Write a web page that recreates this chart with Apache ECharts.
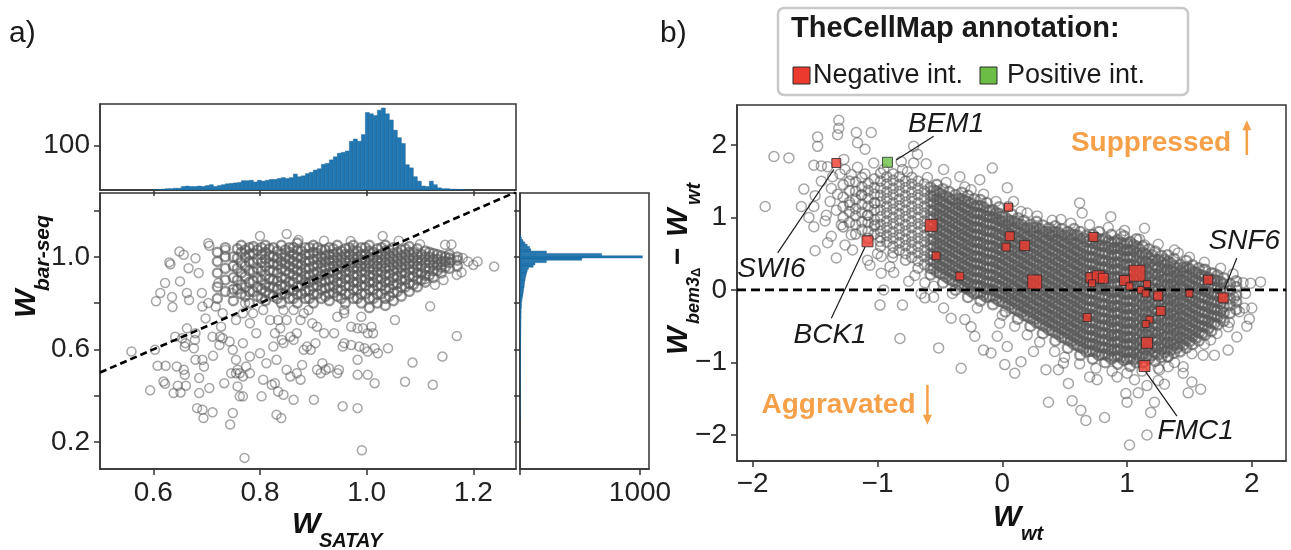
<!DOCTYPE html>
<html>
<head>
<meta charset="utf-8">
<script src="https://cdn.jsdelivr.net/npm/echarts@6/dist/echarts.min.js"></script>
<style>
  html, body { margin: 0; background: #fff; }
  #chart { width: 1291px; height: 550px; }
</style>
</head>
<body>
<div id="chart"></div>
<script>
const FONT = '"Liberation Sans", Arial, sans-serif'
const BLUE = '#1f77b4'
const ORANGE = '#f6a049'

// ---- panel a: axis extents / ticks ----
const A_X = [0.5, 1.28]
const A_Y = [0.083, 1.276]
const A_XTICKS = [0.6, 0.8, 1.0, 1.2]
const A_YTICKS = [0.2, 0.4, 0.6, 0.8, 1.0, 1.2]
const A_YLABELS = [0.2, 0.6, 1.0]

// top histogram of W_SATAY (bins start 0.6, width 0.0075)
const TOP_BIN0 = 0.6
const TOP_BINW = 0.0075
const topHist = [
  1, 1, 2, 3, 3, 4, 4, 8, 9, 8,
  8, 9, 8, 10, 12, 8, 10, 12, 14, 15,
  16, 17, 21, 21, 22, 18, 22, 20, 22, 24,
  24, 26, 28, 26, 28, 36, 30, 32, 37, 40,
  45, 48, 58, 60, 68, 75, 83, 85, 88, 110,
  115, 110, 125, 175, 172, 168, 180, 185, 172, 158,
  135, 118, 105, 57, 50, 30, 20, 9, 8, 20,
  12, 5, 3, 3, 2, 2, 1, 1, 0, 0
]

// right histogram of W_bar-seq (bins start 0.295, width 0.01)
const RIGHT_BIN0 = 0.295
const RIGHT_BINW = 0.01
const rightHist = [
  1, 0, 1, 2, 1, 1, 2, 1, 2, 2,
  2, 1, 2, 3, 2, 2, 3, 2, 3, 3,
  3, 3, 4, 3, 4, 4, 3, 4, 5, 4,
  5, 4, 5, 5, 6, 5, 6, 6, 7, 6,
  7, 8, 7, 8, 9, 8, 10, 9, 11, 12,
  12, 15, 18, 22, 25, 28, 30, 34, 36, 38,
  42, 45, 50, 55, 60, 70, 110, 125, 220, 515,
  1020, 680, 220, 90, 80, 60, 40, 25, 12, 5
]

// scatter a: sparse points [W_SATAY, W_bar-seq]
const sparseA = [
  [0.559,0.591],[0.603,0.598],[0.594,0.423],[0.608,0.529],[0.623,0.529],[0.619,0.461],[0.622,0.451],[0.638,0.411],
  [0.651,0.414],[0.644,0.526],[0.657,0.512],[0.659,0.490],[0.646,0.443],[0.661,0.443],[0.654,0.648],[0.660,0.627],
  [0.659,0.612],[0.663,0.691],[0.641,0.655],[0.679,0.555],[0.676,0.605],[0.678,0.641],[0.686,0.476],[0.686,0.411],
  [0.682,0.346],[0.692,0.339],[0.694,0.303],[0.711,0.328],[0.705,0.433],[0.692,0.555],[0.695,0.526],[0.712,0.572],
  [0.724,0.619],[0.725,0.655],[0.730,0.648],[0.727,0.698],[0.743,0.634],[0.749,0.598],[0.755,0.555],[0.758,0.512],
  [0.755,0.497],[0.762,0.497],[0.758,0.440],[0.762,0.397],[0.749,0.325],[0.744,0.275],[0.733,0.454],[0.746,0.497],
  [0.768,0.483],[0.768,0.397],[0.774,0.526],[0.781,0.569],[0.781,0.497],[0.771,0.131],[0.768,0.627],[0.781,0.713],
  [0.793,0.670],[0.800,0.583],[0.812,0.540],[0.806,0.469],[0.803,0.397],[0.822,0.447],[0.825,0.612],[0.831,0.555],
  [0.828,0.670],[0.834,0.727],[0.838,0.691],[0.841,0.641],[0.844,0.627],[0.828,0.454],[0.834,0.418],[0.831,0.318],
  [0.840,0.303],[0.844,0.404],[0.850,0.512],[0.857,0.483],[0.863,0.382],[0.869,0.497],[0.876,0.469],[0.879,0.533],
  [0.882,0.598],[0.888,0.612],[0.895,0.598],[0.898,0.713],[0.904,0.627],[0.917,0.540],[0.923,0.512],[0.907,0.512],
  [0.901,0.382],[0.914,0.497],[0.929,0.519],[0.945,0.497],[0.948,0.512],[0.955,0.612],[0.958,0.627],[0.971,0.619],
  [0.983,0.555],[0.986,0.612],[0.983,0.691],[0.993,0.691],[0.990,0.741],[1.002,0.670],[1.009,0.698],[1.012,0.670],
  [0.996,0.605],[1.002,0.591],[1.015,0.605],[1.021,0.583],[1.040,0.605],[1.002,0.490],[1.015,0.454],[0.983,0.490],
  [0.955,0.354],[0.983,0.346],[0.991,0.164],[1.053,0.727],[1.072,0.460],[1.086,0.543],[1.119,0.786],[1.124,0.447],
  [1.142,0.569],[1.169,0.658],[0.945,0.741],[0.958,0.770],[0.882,0.756],[0.891,0.770],[0.869,0.670],[0.863,0.641],
  [0.857,0.655],[0.920,0.670],[0.939,0.670],[0.958,0.756],[0.971,0.698],[0.907,0.698],[0.679,0.670],[0.711,0.655],
  [0.698,0.734],[0.730,0.756],[0.755,0.727],[0.768,0.756],[0.787,0.756],[0.806,0.770],[0.819,0.727],[0.844,0.770],
  [0.850,0.727],[0.863,0.770],[0.876,0.727],[0.692,0.785],[0.717,0.785],[0.667,0.813],
  [0.605,0.808],[0.622,0.887],[0.613,0.844],[0.635,0.826],[0.636,0.783],[0.650,0.894],[0.666,0.951],[0.663,0.844],
  [0.679,0.994],[0.685,0.930],[0.691,0.844],[0.703,0.800],[0.722,0.887],[0.735,1.030],[0.747,0.844],[0.772,0.800],
  [0.649,1.023],[0.657,1.009],[0.630,0.976],[0.632,0.968],[0.703,1.059],[0.705,1.048],[0.800,1.090],[0.850,1.099],
  [0.872,1.073],[1.030,1.090],[0.920,1.070],[0.970,1.068],[1.060,1.070],[1.100,1.055],
  [1.239,0.958],[1.208,0.980],[1.190,0.980],[1.178,0.933],[1.169,0.922],[1.159,0.987],[1.147,1.052],[1.159,1.053],
  [1.144,0.900],[1.128,0.879],[1.110,0.904],[1.200,0.965],[1.180,0.995]
]

// scatter a: dense band, columns [x, [y...]]
const coreA = [
  [0.720, [0.82, 0.87, 0.93, 0.98, 1.02]],
  [0.735, [0.85, 0.90, 0.95, 1.00, 1.04]],
  [0.750, [0.81, 0.86, 0.91, 0.96, 1.00]],
  [0.765, [0.84, 0.88, 0.93, 0.975, 1.02, 1.05]],
  [0.780, [0.80, 0.85, 0.89, 0.94, 0.98, 1.01, 1.04]],
  [0.795, [0.83, 0.87, 0.91, 0.95, 0.99, 1.03]],
  [0.810, [0.81, 0.85, 0.88, 0.92, 0.96, 0.99, 1.02, 1.05]],
  [0.825, [0.83, 0.87, 0.90, 0.94, 0.97, 1.00, 1.04]],
  [0.840, [0.80, 0.84, 0.88, 0.91, 0.95, 0.98, 1.01, 1.05]],
  [0.855, [0.82, 0.86, 0.89, 0.93, 0.96, 0.99, 1.02, 1.04]],
  [0.870, [0.80, 0.84, 0.87, 0.91, 0.94, 0.97, 1.00, 1.03, 1.06]],
  [0.885, [0.82, 0.85, 0.89, 0.92, 0.95, 0.98, 1.01, 1.04]],
  [0.900, [0.80, 0.84, 0.87, 0.90, 0.93, 0.96, 0.99, 1.02, 1.05]],
  [0.915, [0.82, 0.86, 0.89, 0.92, 0.95, 0.975, 1.00, 1.03]],
  [0.930, [0.81, 0.84, 0.87, 0.90, 0.93, 0.96, 0.985, 1.01, 1.04]],
  [0.945, [0.83, 0.86, 0.89, 0.92, 0.945, 0.97, 0.995, 1.02, 1.05]],
  [0.960, [0.80, 0.84, 0.875, 0.905, 0.935, 0.96, 0.985, 1.01, 1.035]],
  [0.975, [0.82, 0.86, 0.89, 0.92, 0.95, 0.975, 1.00, 1.025, 1.05]],
  [0.990, [0.80, 0.84, 0.875, 0.905, 0.935, 0.96, 0.985, 1.01, 1.04]],
  [1.005, [0.78, 0.82, 0.86, 0.89, 0.92, 0.95, 0.975, 1.00, 1.025, 1.05]],
  [1.020, [0.80, 0.84, 0.875, 0.905, 0.935, 0.96, 0.985, 1.01, 1.035]],
  [1.035, [0.79, 0.82, 0.86, 0.89, 0.92, 0.95, 0.975, 1.00, 1.025, 1.05]],
  [1.050, [0.81, 0.845, 0.88, 0.91, 0.94, 0.965, 0.99, 1.015, 1.04]],
  [1.065, [0.83, 0.87, 0.90, 0.93, 0.955, 0.98, 1.005, 1.03]],
  [1.080, [0.85, 0.885, 0.915, 0.945, 0.97, 0.995, 1.02, 1.045]],
  [1.095, [0.87, 0.90, 0.93, 0.96, 0.985, 1.01, 1.035]],
  [1.110, [0.89, 0.92, 0.95, 0.975, 1.00, 1.025]],
  [1.125, [0.91, 0.94, 0.965, 0.99, 1.015]],
  [1.140, [0.93, 0.955, 0.98, 1.005]],
  [1.155, [0.95, 0.975, 0.995, 1.01]],
  [1.170, [0.96, 0.985, 1.00]]
]

// scatter a: densest part of the band (between the columns above)
const coreA2 = [
  [0.7575, [0.86, 0.90, 0.95, 0.995, 1.035]],
  [0.7725, [0.83, 0.87, 0.915, 0.96, 1.00, 1.03]],
  [0.7875, [0.85, 0.895, 0.935, 0.975, 1.015, 1.045]],
  [0.8025, [0.82, 0.86, 0.90, 0.94, 0.975, 1.01, 1.04]],
  [0.8175, [0.84, 0.87, 0.905, 0.94, 0.975, 1.005, 1.035]],
  [0.8325, [0.82, 0.86, 0.895, 0.93, 0.965, 0.995, 1.025]],
  [0.8475, [0.84, 0.875, 0.905, 0.94, 0.97, 1.00, 1.03]],
  [0.8625, [0.82, 0.855, 0.89, 0.92, 0.95, 0.98, 1.01, 1.04]],
  [0.8775, [0.84, 0.875, 0.905, 0.935, 0.965, 0.995, 1.025]],
  [0.8925, [0.82, 0.855, 0.89, 0.92, 0.95, 0.98, 1.01, 1.04]],
  [0.9075, [0.84, 0.875, 0.905, 0.935, 0.965, 0.99, 1.015, 1.04]],
  [0.9225, [0.83, 0.865, 0.895, 0.925, 0.955, 0.98, 1.005, 1.03]],
  [0.9375, [0.845, 0.875, 0.905, 0.935, 0.96, 0.985, 1.01, 1.035]],
  [0.9525, [0.82, 0.855, 0.89, 0.92, 0.95, 0.975, 1.00, 1.025]],
  [0.9675, [0.84, 0.875, 0.905, 0.935, 0.96, 0.985, 1.01, 1.04]],
  [0.9825, [0.82, 0.86, 0.89, 0.92, 0.95, 0.975, 1.00, 1.025]],
  [0.9975, [0.84, 0.875, 0.905, 0.935, 0.96, 0.985, 1.01, 1.04]],
  [1.0125, [0.82, 0.86, 0.89, 0.92, 0.945, 0.97, 0.995, 1.02]],
  [1.0275, [0.84, 0.875, 0.905, 0.935, 0.96, 0.985, 1.01, 1.04]],
  [1.0425, [0.83, 0.865, 0.895, 0.925, 0.955, 0.98, 1.005, 1.03]],
  [1.0575, [0.85, 0.885, 0.915, 0.945, 0.97, 0.995, 1.02]],
  [1.0725, [0.87, 0.90, 0.93, 0.96, 0.985, 1.01, 1.035]],
  [1.0875, [0.88, 0.915, 0.945, 0.97, 0.995, 1.02]],
  [1.1025, [0.90, 0.93, 0.96, 0.985, 1.01]],
  [1.1175, [0.92, 0.95, 0.975, 1.00, 1.02]],
  [1.1325, [0.94, 0.965, 0.99, 1.01]],
  [1.1475, [0.955, 0.98, 1.00]]
]

// ---- panel b: axis extents / ticks ----
const B_X = [-2.126, 2.274]
const B_Y = [-2.36, 2.55]
const B_TICKS = [-2, -1, 0, 1, 2]

// scatter b: sparse points [W_wt, W_bem3Δ - W_wt]
const sparseB = [
  [-1.31,2.34],[-1.31,2.23],[-1.32,2.14],[-1.48,2.11],[-1.48,1.98],[-1.17,2.17],[-1.16,2.03],[-1.05,2.17],
  [-1.10,1.94],[-1.83,1.84],[-1.71,1.82],[-1.51,1.72],[-1.27,1.80],[-1.16,1.69],[-1.03,1.75],[-1.45,1.71],
  [-1.40,1.70],[-1.26,1.66],[-1.21,1.59],[-1.36,1.56],[-1.37,1.40],[-1.59,1.39],[-1.90,1.15],[-1.61,1.15],
  [-1.51,1.15],[-1.41,1.03],[-1.51,0.87],[-1.29,0.90],[-1.37,0.74],[-1.50,0.54],[-1.33,0.44],[-1.26,0.62],
  [-1.21,0.76],[-1.22,1.17],[-1.13,1.31],[-1.02,1.20],[-1.08,1.03],[-1.02,0.90],[-0.98,0.67],[-0.97,0.46],
  [-1.08,0.41],[-1.06,0.34],[-0.97,0.23],[-0.87,0.24],[-0.98,-0.21],[-0.80,-0.21],[-0.82,-0.67],[-0.51,-0.80],
  [-0.33,-1.08],[-0.71,1.98],[-0.68,1.87],[-0.81,1.77],[-0.71,1.75],[-0.61,1.74],[-0.76,1.63],[-0.47,1.66],
  [-0.34,1.56],[-0.08,1.68],[0.04,1.41],[0.09,1.22],[-0.18,1.52],[-0.25,1.38],[0.20,1.06],[0.47,0.97],
  [0.62,1.20],[0.64,1.06],[0.87,1.01],[0.95,0.77],[1.14,0.85],[1.14,0.62],[1.41,0.51],[1.61,0.28],
  [1.70,0.23],[2.07,0.11],[1.99,0.09],[1.86,-0.11],[1.94,-0.25],[1.96,-0.50],[1.81,-0.51],[1.81,-0.83],
  [1.67,-0.69],[1.61,-0.90],[1.59,-1.37],[1.49,-1.42],[1.52,-1.27],[1.45,-1.06],[1.33,-0.92],[1.33,-1.06],
  [1.26,-1.10],[1.30,-1.30],[1.22,-1.55],[1.19,-1.69],[1.16,-2.00],[1.02,-2.14],[1.16,-1.32],[1.09,-1.42],
  [0.99,-1.43],[1.00,-1.55],[0.82,-1.76],[0.67,-1.80],[0.63,-1.66],[0.56,-1.53],[0.53,-1.29],[0.37,-1.55],
  [0.76,-1.24],[0.35,-1.10],[0.49,-1.01],[0.92,-1.20],[1.06,-1.24],[0.10,-1.15],[0.15,-0.99],[0.02,-1.03],
  [0.04,-0.78],[-0.09,-0.87],[-0.15,-0.83],[-0.22,-0.64],[-0.25,-0.51],[-0.30,-0.41],[-0.41,-0.39],[-0.47,-0.25],
  [-0.62,-0.11],[-0.04,-0.64],[-0.02,-0.46],
  [-1.45,1.50],[-1.38,1.22],[-1.32,1.32],[-1.42,0.95],[-1.33,1.10],[-0.62,0.10],[-0.70,0.20],[-1.00,0.50],
  [-0.90,0.32],[-0.75,0.12],[-0.88,0.45],[-0.55,0.05],[-0.40,-0.05],[-0.20,-0.25],[0.00,-0.35],[0.10,-0.50],
  [0.20,-0.62],[0.30,-0.72],[0.42,-0.85],[0.50,-0.93],[0.62,-1.02],[0.75,-1.08],[0.88,-1.12],[1.00,-1.15],
  [1.12,-1.12],[1.25,-1.08],[1.38,-1.00],[1.52,-0.88],[1.62,-0.75],[1.72,-0.60],[1.82,-0.45],[1.90,-0.30],
  [1.95,-0.05],[1.93,0.10],[1.85,0.22],[1.75,0.30],[1.62,0.38],[1.50,0.45],[1.38,0.55],[1.25,0.63],
  [1.10,0.70],[0.98,0.82],[0.85,0.86],[0.70,0.90],[0.55,0.92],[0.40,0.96],[0.28,1.02],[0.15,1.08],
  [0.05,1.15],[-0.05,1.22],[-0.15,1.32],[-0.30,1.42],[-0.45,1.48],[-0.60,1.55],[-0.80,1.66],[-0.95,1.66],
  [-1.10,1.60],[-1.30,1.60],[-1.50,1.30],[-1.55,1.00],[-1.40,0.65],[-1.20,0.55],[-0.95,0.00],[-0.65,-0.05],
  [-0.55,-0.10],[0.25,-0.85],[0.45,-1.10],[0.70,-1.20],[1.25,-1.25],[1.45,-1.15],[1.70,-0.90],[1.88,-0.65],
  [2.00,-0.25],[1.98,-0.40]
]

// scatter b: upper-left lobe of the band, columns [x, [y...]]
const lobeB = [
  [-1.275, [0.87, 1.00, 1.15, 1.28, 1.45]],
  [-1.225, [0.93, 1.08, 1.21, 1.37, 1.50]],
  [-1.175, [0.77, 0.90, 1.02, 1.12, 1.25, 1.36, 1.49]],
  [-1.125, [0.83, 0.94, 1.07, 1.18, 1.31, 1.42, 1.55]],
  [-1.075, [0.71, 0.81, 0.93, 1.03, 1.15, 1.26, 1.37, 1.47]],
  [-1.025, [0.77, 0.88, 0.97, 1.10, 1.20, 1.32, 1.41, 1.53]],
  [-0.975, [0.60, 0.72, 0.81, 0.90, 1.01, 1.10, 1.21, 1.30, 1.40, 1.50, 1.61]],
  [-0.925, [0.66, 0.75, 0.86, 0.95, 1.06, 1.15, 1.26, 1.35, 1.46, 1.56]],
  [-0.875, [0.51, 0.60, 0.71, 0.80, 0.91, 1.00, 1.11, 1.20, 1.31, 1.40, 1.51, 1.60]],
  [-0.825, [0.55, 0.65, 0.76, 0.85, 0.96, 1.05, 1.16, 1.25, 1.36, 1.45, 1.56]],
  [-0.775, [0.41, 0.50, 0.61, 0.70, 0.81, 0.90, 1.01, 1.10, 1.21, 1.30, 1.41, 1.50]],
  [-0.725, [0.45, 0.56, 0.66, 0.75, 0.86, 0.95, 1.06, 1.15, 1.26, 1.35, 1.46, 1.55]],
  [-0.675, [0.30, 0.40, 0.51, 0.60, 0.71, 0.80, 0.91, 1.00, 1.11, 1.20, 1.31, 1.40, 1.50]],
  [-0.625, [0.35, 0.46, 0.55, 0.66, 0.75, 0.86, 0.95, 1.06, 1.15, 1.26, 1.36, 1.46]]
]

// scatter b: dense diagonal band, columns [x, [y...]]
const coreB = [
  [-0.575, [0.21, 0.30, 0.41, 0.50, 0.61, 0.70, 0.81, 0.90, 1.01, 1.10, 1.21, 1.30, 1.41]],
  [-0.525, [0.25, 0.36, 0.45, 0.56, 0.65, 0.76, 0.85, 0.96, 1.05, 1.16, 1.25, 1.36, 1.45]],
  [-0.475, [0.10, 0.21, 0.30, 0.41, 0.50, 0.61, 0.70, 0.81, 0.90, 1.01, 1.10, 1.21, 1.30, 1.39]],
  [-0.425, [0.15, 0.26, 0.35, 0.46, 0.55, 0.66, 0.75, 0.86, 0.95, 1.06, 1.15, 1.26, 1.35]],
  [-0.375, [0.00, 0.11, 0.20, 0.31, 0.40, 0.51, 0.60, 0.71, 0.80, 0.91, 1.00, 1.11, 1.20, 1.31]],
  [-0.325, [0.05, 0.16, 0.25, 0.36, 0.45, 0.56, 0.65, 0.76, 0.85, 0.96, 1.05, 1.16, 1.25, 1.34]],
  [-0.275, [-0.10, 0.01, 0.10, 0.21, 0.30, 0.41, 0.50, 0.61, 0.70, 0.81, 0.90, 1.01, 1.10, 1.21, 1.30]],
  [-0.225, [-0.05, 0.06, 0.15, 0.26, 0.35, 0.46, 0.55, 0.66, 0.75, 0.86, 0.95, 1.06, 1.15, 1.25]],
  [-0.175, [-0.15, -0.04, 0.05, 0.16, 0.25, 0.36, 0.45, 0.56, 0.65, 0.76, 0.85, 0.96, 1.05, 1.16, 1.24]],
  [-0.125, [-0.10, 0.01, 0.10, 0.21, 0.30, 0.41, 0.50, 0.61, 0.70, 0.81, 0.90, 1.01, 1.10, 1.20]],
  [-0.075, [-0.20, -0.09, 0.00, 0.11, 0.20, 0.31, 0.40, 0.51, 0.60, 0.71, 0.80, 0.91, 1.00, 1.10]],
  [-0.025, [-0.15, -0.04, 0.05, 0.16, 0.25, 0.36, 0.45, 0.56, 0.65, 0.76, 0.85, 0.96, 1.05, 1.14]],
  [0.025, [-0.30, -0.19, -0.10, 0.01, 0.10, 0.21, 0.30, 0.41, 0.50, 0.61, 0.70, 0.81, 0.90, 1.00]],
  [0.075, [-0.25, -0.14, -0.05, 0.06, 0.15, 0.26, 0.35, 0.46, 0.55, 0.66, 0.75, 0.86, 0.95, 1.04]],
  [0.125, [-0.40, -0.29, -0.20, -0.09, 0.00, 0.11, 0.20, 0.31, 0.40, 0.51, 0.60, 0.71, 0.80, 0.91, 0.99]],
  [0.175, [-0.35, -0.24, -0.15, -0.04, 0.05, 0.16, 0.25, 0.36, 0.45, 0.56, 0.65, 0.76, 0.85, 0.95]],
  [0.225, [-0.50, -0.39, -0.30, -0.19, -0.10, 0.01, 0.10, 0.21, 0.30, 0.41, 0.50, 0.61, 0.70, 0.81, 0.90]],
  [0.275, [-0.45, -0.34, -0.25, -0.14, -0.05, 0.06, 0.15, 0.26, 0.35, 0.46, 0.55, 0.66, 0.75, 0.86, 0.94]],
  [0.325, [-0.60, -0.49, -0.40, -0.29, -0.20, -0.09, 0.00, 0.11, 0.20, 0.31, 0.40, 0.51, 0.60, 0.71, 0.80, 0.89]],
  [0.375, [-0.55, -0.44, -0.35, -0.24, -0.15, -0.04, 0.05, 0.16, 0.25, 0.36, 0.45, 0.56, 0.65, 0.76, 0.85]],
  [0.425, [-0.70, -0.59, -0.50, -0.39, -0.30, -0.19, -0.10, 0.01, 0.10, 0.21, 0.30, 0.41, 0.50, 0.61, 0.70, 0.80, 0.88]],
  [0.475, [-0.65, -0.54, -0.45, -0.34, -0.25, -0.14, -0.05, 0.06, 0.15, 0.26, 0.35, 0.46, 0.55, 0.66, 0.75, 0.84]],
  [0.525, [-0.80, -0.69, -0.60, -0.49, -0.40, -0.29, -0.20, -0.09, 0.00, 0.11, 0.20, 0.31, 0.40, 0.51, 0.60, 0.71, 0.80]],
  [0.575, [-0.75, -0.64, -0.55, -0.44, -0.35, -0.24, -0.15, -0.04, 0.05, 0.16, 0.25, 0.36, 0.45, 0.56, 0.65, 0.76, 0.84]],
  [0.625, [-0.90, -0.79, -0.70, -0.59, -0.50, -0.39, -0.30, -0.19, -0.10, 0.01, 0.10, 0.21, 0.30, 0.41, 0.50, 0.61, 0.70, 0.80]],
  [0.675, [-0.85, -0.74, -0.65, -0.54, -0.45, -0.34, -0.25, -0.14, -0.05, 0.06, 0.15, 0.26, 0.35, 0.46, 0.55, 0.66, 0.75]],
  [0.725, [-0.95, -0.84, -0.75, -0.64, -0.55, -0.44, -0.35, -0.24, -0.15, -0.04, 0.05, 0.16, 0.25, 0.36, 0.45, 0.56, 0.65, 0.76]],
  [0.775, [-0.90, -0.79, -0.70, -0.59, -0.50, -0.39, -0.30, -0.19, -0.10, 0.01, 0.10, 0.21, 0.30, 0.41, 0.50, 0.61, 0.70, 0.80]],
  [0.825, [-1.00, -0.89, -0.80, -0.69, -0.60, -0.49, -0.40, -0.29, -0.20, -0.09, 0.00, 0.11, 0.20, 0.31, 0.40, 0.51, 0.60, 0.71]],
  [0.875, [-0.95, -0.84, -0.75, -0.64, -0.55, -0.44, -0.35, -0.24, -0.15, -0.04, 0.05, 0.16, 0.25, 0.36, 0.45, 0.56, 0.65, 0.76]],
  [0.925, [-1.02, -0.91, -0.82, -0.71, -0.62, -0.51, -0.42, -0.31, -0.22, -0.11, -0.02, 0.09, 0.18, 0.29, 0.38, 0.49, 0.58, 0.69]],
  [0.975, [-0.97, -0.86, -0.77, -0.66, -0.57, -0.46, -0.37, -0.26, -0.17, -0.06, 0.03, 0.14, 0.23, 0.34, 0.43, 0.54, 0.63, 0.74]],
  [1.025, [-1.05, -0.94, -0.85, -0.74, -0.65, -0.54, -0.45, -0.34, -0.25, -0.14, -0.05, 0.06, 0.15, 0.26, 0.35, 0.46, 0.55, 0.66]],
  [1.075, [-1.00, -0.89, -0.80, -0.69, -0.60, -0.49, -0.40, -0.29, -0.20, -0.09, 0.00, 0.11, 0.20, 0.31, 0.40, 0.51, 0.60, 0.70]],
  [1.125, [-1.00, -0.89, -0.80, -0.69, -0.60, -0.49, -0.40, -0.29, -0.20, -0.09, 0.00, 0.11, 0.20, 0.31, 0.40, 0.51, 0.60]],
  [1.175, [-0.95, -0.84, -0.75, -0.64, -0.55, -0.44, -0.35, -0.24, -0.15, -0.04, 0.05, 0.16, 0.25, 0.36, 0.45, 0.56]],
  [1.225, [-0.98, -0.87, -0.78, -0.67, -0.58, -0.47, -0.38, -0.27, -0.18, -0.07, 0.02, 0.13, 0.22, 0.33, 0.42, 0.53]],
  [1.275, [-0.93, -0.82, -0.73, -0.62, -0.53, -0.42, -0.33, -0.22, -0.13, -0.02, 0.07, 0.18, 0.27, 0.38, 0.47]],
  [1.325, [-0.92, -0.81, -0.72, -0.61, -0.52, -0.41, -0.32, -0.21, -0.12, -0.01, 0.08, 0.19, 0.28, 0.39, 0.48]],
  [1.375, [-0.87, -0.76, -0.67, -0.56, -0.47, -0.36, -0.27, -0.16, -0.07, 0.04, 0.13, 0.24, 0.33, 0.43]],
  [1.425, [-0.85, -0.74, -0.65, -0.54, -0.45, -0.34, -0.25, -0.14, -0.05, 0.06, 0.15, 0.26, 0.35]],
  [1.475, [-0.80, -0.69, -0.60, -0.49, -0.40, -0.29, -0.20, -0.09, 0.00, 0.11, 0.20, 0.31, 0.40]],
  [1.525, [-0.75, -0.64, -0.55, -0.44, -0.35, -0.24, -0.15, -0.04, 0.05, 0.16, 0.25, 0.34]],
  [1.575, [-0.70, -0.59, -0.50, -0.39, -0.30, -0.19, -0.10, 0.01, 0.10, 0.21, 0.30]],
  [1.625, [-0.62, -0.51, -0.42, -0.31, -0.22, -0.11, -0.02, 0.09, 0.18, 0.28]],
  [1.675, [-0.57, -0.46, -0.37, -0.26, -0.17, -0.06, 0.03, 0.14, 0.23]],
  [1.725, [-0.48, -0.37, -0.28, -0.17, -0.08, 0.03, 0.12, 0.20]],
  [1.775, [-0.43, -0.32, -0.23, -0.12, -0.03, 0.08, 0.16]],
  [1.825, [-0.32, -0.21, -0.12, -0.01, 0.08]],
  [1.875, [-0.27, -0.16, -0.07, 0.04, 0.12]]
]

// scatter b: densest interior of the band (between the columns above)
const coreB2 = [
  [-0.55, [0.29, 0.39, 0.49, 0.59, 0.69, 0.79, 0.89, 0.99, 1.09, 1.19, 1.29, 1.37]],
  [-0.50, [0.23, 0.33, 0.43, 0.53, 0.63, 0.73, 0.83, 0.93, 1.03, 1.13, 1.23, 1.33]],
  [-0.45, [0.18, 0.28, 0.38, 0.48, 0.58, 0.68, 0.78, 0.88, 0.98, 1.08, 1.18, 1.29]],
  [-0.40, [0.13, 0.23, 0.33, 0.43, 0.53, 0.63, 0.73, 0.83, 0.93, 1.03, 1.13, 1.24]],
  [-0.35, [0.08, 0.18, 0.28, 0.38, 0.48, 0.58, 0.68, 0.78, 0.88, 0.98, 1.08, 1.18, 1.26]],
  [-0.30, [0.03, 0.13, 0.23, 0.33, 0.43, 0.53, 0.63, 0.73, 0.83, 0.93, 1.03, 1.13, 1.23]],
  [-0.25, [-0.02, 0.08, 0.18, 0.28, 0.38, 0.48, 0.58, 0.68, 0.78, 0.88, 0.98, 1.08, 1.19]],
  [-0.20, [-0.04, 0.06, 0.16, 0.26, 0.36, 0.46, 0.56, 0.66, 0.76, 0.86, 0.96, 1.06, 1.16]],
  [-0.15, [-0.07, 0.03, 0.13, 0.23, 0.33, 0.43, 0.53, 0.63, 0.73, 0.83, 0.93, 1.03, 1.14]],
  [-0.10, [-0.09, 0.01, 0.11, 0.21, 0.31, 0.41, 0.51, 0.61, 0.71, 0.81, 0.91, 1.01, 1.09]],
  [-0.05, [-0.12, -0.02, 0.08, 0.18, 0.28, 0.38, 0.48, 0.58, 0.68, 0.78, 0.88, 0.98, 1.06]],
  [0.00, [-0.16, -0.06, 0.04, 0.14, 0.24, 0.34, 0.44, 0.54, 0.64, 0.74, 0.84, 0.94, 1.01]],
  [0.05, [-0.21, -0.11, -0.01, 0.09, 0.19, 0.29, 0.39, 0.49, 0.59, 0.69, 0.79, 0.89, 0.96]],
  [0.10, [-0.26, -0.16, -0.06, 0.04, 0.14, 0.24, 0.34, 0.44, 0.54, 0.64, 0.74, 0.84, 0.94]],
  [0.15, [-0.31, -0.21, -0.11, -0.01, 0.09, 0.19, 0.29, 0.39, 0.49, 0.59, 0.69, 0.79, 0.90]],
  [0.20, [-0.36, -0.26, -0.16, -0.06, 0.04, 0.14, 0.24, 0.34, 0.44, 0.54, 0.64, 0.74, 0.85]],
  [0.25, [-0.41, -0.31, -0.21, -0.11, -0.01, 0.09, 0.19, 0.29, 0.39, 0.49, 0.59, 0.69, 0.79, 0.86]],
  [0.30, [-0.46, -0.36, -0.26, -0.16, -0.06, 0.04, 0.14, 0.24, 0.34, 0.44, 0.54, 0.64, 0.74, 0.84]],
  [0.35, [-0.51, -0.41, -0.31, -0.21, -0.11, -0.01, 0.09, 0.19, 0.29, 0.39, 0.49, 0.59, 0.69, 0.80]],
  [0.40, [-0.56, -0.46, -0.36, -0.26, -0.16, -0.06, 0.04, 0.14, 0.24, 0.34, 0.44, 0.54, 0.64, 0.74, 0.80]],
  [0.45, [-0.61, -0.51, -0.41, -0.31, -0.21, -0.11, -0.01, 0.09, 0.19, 0.29, 0.39, 0.49, 0.59, 0.69, 0.79]],
  [0.50, [-0.66, -0.56, -0.46, -0.36, -0.26, -0.16, -0.06, 0.04, 0.14, 0.24, 0.34, 0.44, 0.54, 0.64, 0.75]],
  [0.55, [-0.71, -0.61, -0.51, -0.41, -0.31, -0.21, -0.11, -0.01, 0.09, 0.19, 0.29, 0.39, 0.49, 0.59, 0.69, 0.76]],
  [0.60, [-0.76, -0.66, -0.56, -0.46, -0.36, -0.26, -0.16, -0.06, 0.04, 0.14, 0.24, 0.34, 0.44, 0.54, 0.64, 0.75]],
  [0.65, [-0.81, -0.71, -0.61, -0.51, -0.41, -0.31, -0.21, -0.11, -0.01, 0.09, 0.19, 0.29, 0.39, 0.49, 0.59, 0.71]],
  [0.70, [-0.84, -0.74, -0.64, -0.54, -0.44, -0.34, -0.24, -0.14, -0.04, 0.06, 0.16, 0.26, 0.36, 0.46, 0.56, 0.69]],
  [0.75, [-0.86, -0.76, -0.66, -0.56, -0.46, -0.36, -0.26, -0.16, -0.06, 0.04, 0.14, 0.24, 0.34, 0.44, 0.54, 0.64, 0.72]],
  [0.80, [-0.89, -0.79, -0.69, -0.59, -0.49, -0.39, -0.29, -0.19, -0.09, 0.01, 0.11, 0.21, 0.31, 0.41, 0.51, 0.61, 0.69]],
  [0.85, [-0.91, -0.81, -0.71, -0.61, -0.51, -0.41, -0.31, -0.21, -0.11, -0.01, 0.09, 0.19, 0.29, 0.39, 0.49, 0.59, 0.67]],
  [0.90, [-0.92, -0.82, -0.72, -0.62, -0.52, -0.42, -0.32, -0.22, -0.12, -0.02, 0.08, 0.18, 0.28, 0.38, 0.48, 0.58, 0.66]],
  [0.95, [-0.93, -0.83, -0.73, -0.63, -0.53, -0.43, -0.33, -0.23, -0.13, -0.03, 0.07, 0.17, 0.27, 0.37, 0.47, 0.57, 0.65]],
  [1.00, [-0.95, -0.85, -0.75, -0.65, -0.55, -0.45, -0.35, -0.25, -0.15, -0.05, 0.05, 0.15, 0.25, 0.35, 0.45, 0.55, 0.64]],
  [1.05, [-0.96, -0.86, -0.76, -0.66, -0.56, -0.46, -0.36, -0.26, -0.16, -0.06, 0.04, 0.14, 0.24, 0.34, 0.44, 0.54, 0.62]],
  [1.10, [-0.94, -0.84, -0.74, -0.64, -0.54, -0.44, -0.34, -0.24, -0.14, -0.04, 0.06, 0.16, 0.26, 0.36, 0.46, 0.56]],
  [1.15, [-0.91, -0.81, -0.71, -0.61, -0.51, -0.41, -0.31, -0.21, -0.11, -0.01, 0.09, 0.19, 0.29, 0.39, 0.49]],
  [1.20, [-0.90, -0.80, -0.70, -0.60, -0.50, -0.40, -0.30, -0.20, -0.10, 0.00, 0.10, 0.20, 0.30, 0.40, 0.48]],
  [1.25, [-0.89, -0.79, -0.69, -0.59, -0.49, -0.39, -0.29, -0.19, -0.09, 0.01, 0.11, 0.21, 0.31, 0.41]],
  [1.30, [-0.86, -0.76, -0.66, -0.56, -0.46, -0.36, -0.26, -0.16, -0.06, 0.04, 0.14, 0.24, 0.34, 0.42]],
  [1.35, [-0.83, -0.73, -0.63, -0.53, -0.43, -0.33, -0.23, -0.13, -0.03, 0.07, 0.17, 0.27, 0.37]],
  [1.40, [-0.80, -0.70, -0.60, -0.50, -0.40, -0.30, -0.20, -0.10, 0.00, 0.10, 0.20, 0.30]],
  [1.45, [-0.76, -0.66, -0.56, -0.46, -0.36, -0.26, -0.16, -0.06, 0.04, 0.14, 0.24, 0.31]],
  [1.50, [-0.71, -0.61, -0.51, -0.41, -0.31, -0.21, -0.11, -0.01, 0.09, 0.19, 0.29]],
  [1.55, [-0.66, -0.56, -0.46, -0.36, -0.26, -0.16, -0.06, 0.04, 0.14, 0.24]],
  [1.60, [-0.60, -0.50, -0.40, -0.30, -0.20, -0.10, 0.00, 0.10, 0.20]],
  [1.65, [-0.53, -0.43, -0.33, -0.23, -0.13, -0.03, 0.07, 0.17]],
  [1.70, [-0.46, -0.36, -0.26, -0.16, -0.06, 0.04, 0.14]],
  [1.75, [-0.39, -0.29, -0.19, -0.09, 0.01, 0.11]]
]

// TheCellMap annotated genes [x, y, marker size]
const negativeInt = [
  [-1.33,1.75,9],[-0.57,0.89,12],[-1.08,0.67,11],[-0.53,0.47,8],[-0.34,0.19,8],[0.05,1.14,8],
  [0.06,0.74,9],[0.03,0.59,8],[0.18,0.61,10],[0.26,0.11,14],[0.73,0.73,9],[0.68,-0.38,8],
  [0.71,0.17,10],[0.77,0.18,12],[0.81,0.16,10],[0.72,0.09,7],[1.08,0.23,16],[0.98,0.13,10],
  [1.02,0.05,7],[1.11,0.00,7],[1.16,0.08,7],[1.15,-0.05,7],[1.25,-0.08,9],[1.27,-0.29,9],
  [1.18,-0.41,7],[1.15,-0.47,7],[1.16,-0.73,11],[1.14,-1.05,11],[1.50,-0.05,7],[1.65,0.14,9],
  [1.77,-0.11,10]
]
const positiveInt = [[-0.92,1.76,10]]

// gene labels: text position and leader line (data coords)
const geneLabels = [
  { name: 'BEM1', at: [-0.45, 2.29], from: [-0.55, 2.12], to: [-0.85, 1.79] },
  { name: 'SWI6', at: [-1.85, 0.28], from: [-1.80, 0.51], to: [-1.35, 1.66] },
  { name: 'BCK1', at: [-1.38, -0.62], from: [-1.37, -0.39], to: [-1.10, 0.59] },
  { name: 'SNF6', at: [1.94, 0.67], from: [1.88, 0.44], to: [1.78, 0.01] },
  { name: 'FMC1', at: [1.55, -1.95], from: [1.40, -1.74], to: [1.15, -1.13] }
]

const cols = c => c.flatMap(([x, ys]) => ys.map(y => [x, y]))
const fmtMinus = v => (v < 0 ? '\u2212' + Math.abs(v) : String(v))

function axis(gridIndex, range, ticks, labels, fmt, margin) {
  return {
    type: 'value', gridIndex, min: range[0], max: range[1],
    splitLine: { show: false },
    axisLine: { show: true, onZero: false, lineStyle: { color: '#333', width: 1.5 } },
    axisTick: { show: ticks.length > 0, customValues: ticks, length: 6, lineStyle: { color: '#333', width: 1.5 } },
    axisLabel: {
      show: labels.length > 0, customValues: labels, formatter: fmt,
      color: '#222', fontSize: 28, fontFamily: FONT, margin: margin || 10
    }
  }
}

// outlying circles vs. the crowded band (where thousands of rings overlap in the original)
const hollow = { color: 'rgba(0,0,0,0)', borderColor: 'rgba(85,85,85,0.66)', borderWidth: 1.5 }
const hollowMid = { color: 'rgba(0,0,0,0)', borderColor: 'rgba(85,85,85,0.7)', borderWidth: 1.8 }
const hollowDense = { color: 'rgba(0,0,0,0)', borderColor: 'rgba(88,88,88,0.78)', borderWidth: 2.4 }
const gridBox = { show: true, borderColor: '#333', borderWidth: 1.5, backgroundColor: 'transparent' }

function gray(gi, size, style, data) {
  return { type: 'scatter', xAxisIndex: gi, yAxisIndex: gi, silent: true, z: 2,
    symbol: 'circle', symbolSize: size, itemStyle: style, large: false, data }
}

const option = {
  animation: false,
  backgroundColor: '#fff',
  grid: [
    Object.assign({ left: 100, top: 104, width: 416, height: 86 }, gridBox),
    Object.assign({ left: 100, top: 193, width: 416, height: 276 }, gridBox),
    Object.assign({ left: 520, top: 193, width: 129, height: 276 }, gridBox),
    Object.assign({ left: 737, top: 105, width: 549, height: 356 }, gridBox)
  ],
  xAxis: [
    axis(0, A_X, A_XTICKS, [], null),
    axis(1, A_X, A_XTICKS, A_XTICKS, v => v.toFixed(1)),
    axis(2, [0, 1075], [0, 1000], [1000], v => String(v)),
    axis(3, B_X, B_TICKS, B_TICKS, fmtMinus, 9)
  ],
  yAxis: [
    axis(0, [0, 194], [100], [100], v => String(v)),
    axis(1, A_Y, A_YTICKS, A_YLABELS, v => v.toFixed(1)),
    axis(2, A_Y, A_YTICKS, [], null),
    axis(3, B_Y, B_TICKS, B_TICKS, fmtMinus)
  ],
  series: [
    {
      type: 'custom', xAxisIndex: 0, yAxisIndex: 0, silent: true, clip: true,
      data: topHist.map((c, i) => [TOP_BIN0 + i * TOP_BINW, TOP_BIN0 + (i + 1) * TOP_BINW, c]),
      encode: { x: [0, 1], y: 2 },
      renderItem: (params, api) => {
        const a = api.coord([api.value(0), 0])
        const b = api.coord([api.value(1), api.value(2)])
        return { type: 'rect', shape: { x: a[0], y: b[1], width: b[0] - a[0], height: a[1] - b[1] },
          style: { fill: BLUE, stroke: '#1a5d8c', lineWidth: 0.4 } }
      }
    },
    gray(1, 9, hollow, sparseA),
    gray(1, 9, hollowDense, cols(coreA).concat(cols(coreA2))),
    {
      type: 'line', xAxisIndex: 1, yAxisIndex: 1, silent: true, z: 4, symbol: 'none',
      data: [[A_X[0], A_X[0]], [A_X[1], A_X[1]]],
      lineStyle: { color: '#000', width: 2.6, type: [7, 4] }
    },
    {
      type: 'custom', xAxisIndex: 2, yAxisIndex: 2, silent: true, clip: true,
      data: rightHist.map((c, i) => [RIGHT_BIN0 + i * RIGHT_BINW, RIGHT_BIN0 + (i + 1) * RIGHT_BINW, c]),
      encode: { x: 2, y: [0, 1] },
      renderItem: (params, api) => {
        const a = api.coord([0, api.value(0)])
        const b = api.coord([api.value(2), api.value(1)])
        return { type: 'rect', shape: { x: a[0], y: b[1], width: b[0] - a[0], height: a[1] - b[1] },
          style: { fill: BLUE, stroke: '#1a5d8c', lineWidth: 0.4 } }
      }
    },
    gray(3, 10, hollow, sparseB),
    gray(3, 10, hollowMid, cols(lobeB)),
    gray(3, 10, hollowDense, cols(coreB).concat(cols(coreB2))),
    {
      type: 'line', xAxisIndex: 3, yAxisIndex: 3, silent: true, z: 3, symbol: 'none',
      data: [[B_X[0], 0], [B_X[1], 0]],
      lineStyle: { color: '#000', width: 2.6, type: [9, 5] }
    },
    {
      type: 'scatter', xAxisIndex: 3, yAxisIndex: 3, silent: true, z: 5,
      symbol: 'rect', symbolSize: d => d[2],
      itemStyle: { color: '#ec3a2e', borderColor: '#2a2a2a', borderWidth: 1 },
      data: negativeInt
    },
    {
      type: 'scatter', xAxisIndex: 3, yAxisIndex: 3, silent: true, z: 5,
      symbol: 'rect', symbolSize: d => d[2],
      itemStyle: { color: '#6cbd45', borderColor: '#2a2a2a', borderWidth: 1 },
      data: positiveInt
    }
  ]
}

const chart = echarts.init(document.getElementById('chart'))
chart.setOption(option)

// ---- overlay text, built from axis coordinates ----
const toB = p => chart.convertToPixel({ gridIndex: 3 }, p)

function txt(x, y, text, size, opts) {
  return { type: 'text', x, y, z: 20, style: Object.assign({
    text, fontSize: size, fontFamily: FONT, fill: '#1a1a1a', align: 'left', verticalAlign: 'middle'
  }, opts || {}) }
}

// W with subscript parts: [text, size, dx, dy, upright]
function subTitle(x, y, rotation, parts) {
  return { type: 'group', x, y, rotation, z: 20,
    children: parts.map(([t, size, dx, dy, plain]) => txt(dx, dy, t, size,
      { fontWeight: 'bold', fontStyle: plain ? 'normal' : 'italic', fill: '#111' })) }
}

function arrow(x, yTail, yHead) {
  const dir = yHead < yTail ? 1 : -1
  return [
    { type: 'line', z: 20, shape: { x1: x, y1: yTail, x2: x, y2: yHead + dir * 8 }, style: { stroke: ORANGE, lineWidth: 2.5 } },
    { type: 'polygon', z: 20, shape: { points: [[x - 4.5, yHead + dir * 10], [x + 4.5, yHead + dir * 10], [x, yHead]] }, style: { fill: ORANGE } }
  ]
}

const g = []
g.push(txt(9, 34, 'a)', 30))
g.push(txt(660, 34, 'b)', 30))

// axis titles
g.push(subTitle(292, 525, 0, [['W', 30, 0, 0], ['SATAY', 20, 27, 16]]))
g.push(subTitle(27, 318, Math.PI / 2, [['W', 30, 0, 0], ['bar-seq', 21, 27, 16]]))
g.push(subTitle(993, 518, 0, [['W', 30, 0, 0], ['wt', 20, 28, 16]]))
g.push(subTitle(679, 355, Math.PI / 2, [
  ['W', 30, 0, 0], ['bem3', 18, 31, 15], ['\u0394', 13, 78, 17, true],
  ['\u2212', 30, 90, 0, true], ['W', 30, 118, 0], ['wt', 20, 150, 15]
]))

// legend box
g.push({ type: 'rect', z: 19, shape: { x: 778, y: 8, width: 410, height: 87, r: 6 },
  style: { fill: '#fff', stroke: '#c8c8c8', lineWidth: 2.5 } })
g.push(txt(791, 29, 'TheCellMap annotation:', 29, { fontWeight: 'bold' }))
g.push({ type: 'rect', z: 20, shape: { x: 793, y: 67, width: 17, height: 17 }, style: { fill: '#ec3a2e', stroke: '#2a2a2a', lineWidth: 1 } })
g.push(txt(813, 76, 'Negative int.', 27))
g.push({ type: 'rect', z: 20, shape: { x: 980, y: 67, width: 17, height: 17 }, style: { fill: '#6cbd45', stroke: '#2a2a2a', lineWidth: 1 } })
g.push(txt(1007, 76, 'Positive int.', 27))

// gene labels with leader lines
geneLabels.forEach(l => {
  const a = toB(l.from), b = toB(l.to), p = toB(l.at)
  g.push({ type: 'line', z: 15, shape: { x1: a[0], y1: a[1], x2: b[0], y2: b[1] }, style: { stroke: '#1a1a1a', lineWidth: 1.2 } })
  g.push(txt(p[0], p[1], l.name, 28, { fontStyle: 'italic', align: 'center' }))
})

// Suppressed / Aggravated
const sp = toB([0.55, 2.02]), sa = toB([1.96, 1.86]), sh = toB([1.96, 2.34])
g.push(txt(sp[0], sp[1], 'Suppressed', 28, { fontWeight: 'bold', fill: ORANGE }))
g.push(...arrow(sa[0], sa[1], sh[1]))
const ap = toB([-1.93, -1.586]), aa = toB([-0.6, -1.31]), ah = toB([-0.6, -1.86])
g.push(txt(ap[0], ap[1], 'Aggravated', 28, { fontWeight: 'bold', fill: ORANGE }))
g.push(...arrow(aa[0], aa[1], ah[1]))

chart.setOption({ graphic: g })
</script>
</body>
</html>
